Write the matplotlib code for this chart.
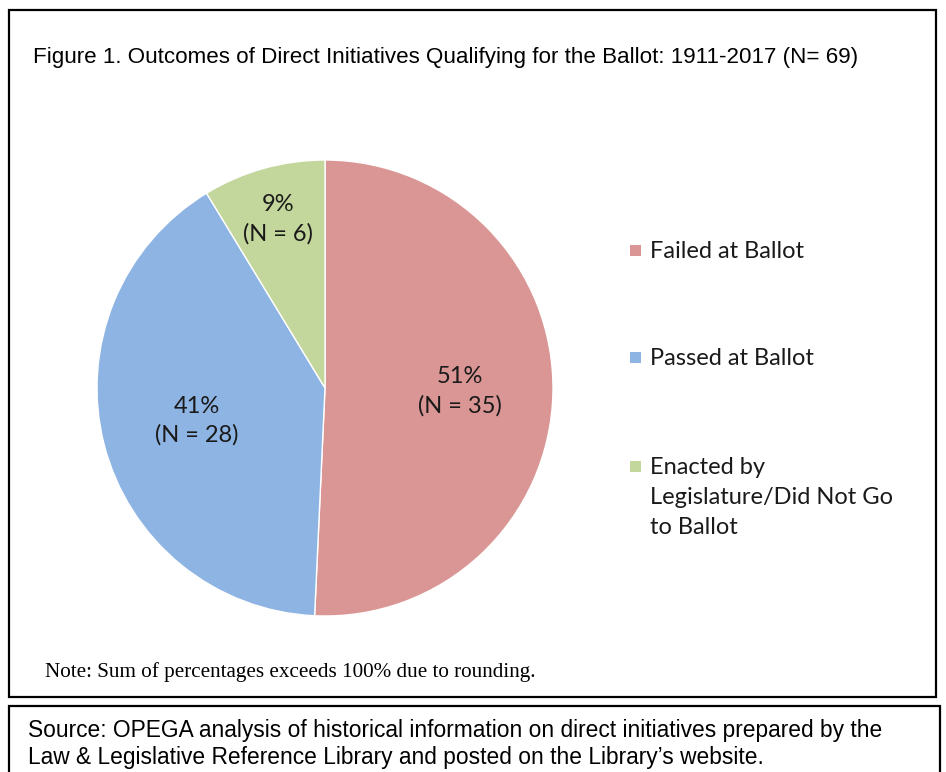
import matplotlib
matplotlib.use("Agg")
import matplotlib.pyplot as plt
from matplotlib.patches import Rectangle
from matplotlib import font_manager
import numpy as np

categories = ["Failed at Ballot", "Passed at Ballot", "Enacted by\nLegislature/Did Not Go\nto Ballot"]
counts = [35, 28, 6]
pct_labels = ["51%", "41%", "9%"]
colors = ["#D99694", "#8EB4E3", "#C3D69B"]
label_radius = [0.59, 0.58, 0.77]

title = "Figure 1. Outcomes of Direct Initiatives Qualifying for the Ballot: 1911-2017 (N= 69)"
note = "Note: Sum of percentages exceeds 100% due to rounding."
source = ("Source: OPEGA analysis of historical information on direct initiatives prepared by the\n"
          "Law & Legislative Reference Library and posted on the Library\u2019s website.")

names = {f.name for f in font_manager.fontManager.ttflist}
narrow = "Liberation Sans Narrow" if "Liberation Sans Narrow" in names else "Liberation Sans"
body = "Lato" if "Lato" in names else "DejaVu Sans"
serif = "Liberation Serif" if "Liberation Serif" in names else "DejaVu Serif"

W, H = 946, 772
fig = plt.figure(figsize=(W / 100, H / 100), dpi=100)
fig.patch.set_facecolor("white")

def fx(px):
    return px / W

def fy(py):
    return 1 - py / H

# frames
fig.patches.append(Rectangle((fx(9), fy(697)), fx(936) - fx(9), fy(10) - fy(697),
                             transform=fig.transFigure, fill=False, ec="black", lw=1.6))
fig.patches.append(Rectangle((fx(9), fy(790)), fx(940) - fx(9), fy(706) - fy(790),
                             transform=fig.transFigure, fill=False, ec="black", lw=1.6, clip_on=False))

# pie
cx, cy, r = 325, 388, 228
ax = fig.add_axes([fx(cx - r), fy(cy + r), 2 * r / W, 2 * r / H])
wedges, _ = ax.pie(counts, colors=colors, startangle=90, counterclock=False,
                   wedgeprops=dict(edgecolor="white", linewidth=1.0))
ax.set_xlim(-1, 1)
ax.set_ylim(-1, 1)
ax.set_aspect("equal")
ax.axis("off")

for w, p, n, rr in zip(wedges, pct_labels, counts, label_radius):
    ang = np.deg2rad((w.theta1 + w.theta2) / 2)
    ax.text(rr * np.cos(ang), rr * np.sin(ang), f"{p}\n(N = {n})", ha="center", va="center",
            fontsize=17, family=body, color="#1a1a1a", linespacing=1.45)

# legend (manual, Excel style)
leg_y = [250, 357, 466]
for w, lab, y in zip(wedges, categories, leg_y):
    fig.patches.append(Rectangle((fx(630), fy(y + 6)), fx(641) - fx(630), fy(y - 5) - fy(y + 6),
                                 transform=fig.transFigure, fc=w.get_facecolor(), ec="none"))
    fig.text(fx(650), fy(y - 9), lab, ha="left", va="top", fontsize=17, family=body,
             color="#1a1a1a", linespacing=1.52)

fig.text(fx(33), fy(57), title, ha="left", va="center", fontsize=16.1, family=narrow,
         color="black")
fig.text(fx(45), fy(672), note, ha="left", va="center", fontsize=15.2, family=serif, color="black")
fig.text(fx(28), fy(744), source, ha="left", va="center", fontsize=16.4, family=narrow,
         color="black", linespacing=1.2)

fig.savefig("out.png", dpi=100, facecolor="white")
